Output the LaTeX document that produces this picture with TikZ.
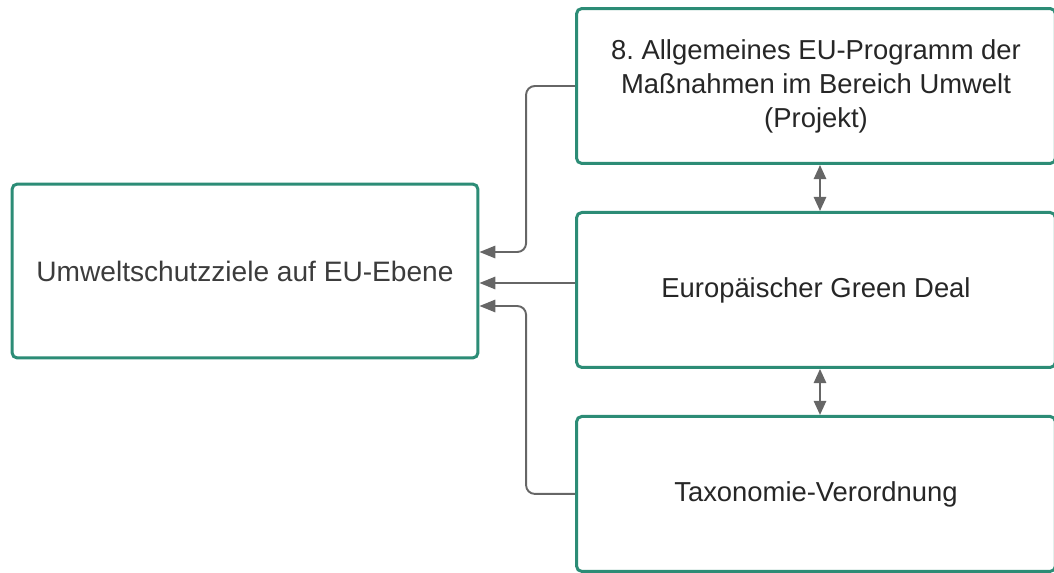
\documentclass[tikz,border=0pt]{standalone}
\usepackage{fontspec}
\setmainfont{Liberation Sans}
\usetikzlibrary{positioning,arrows.meta}
\definecolor{boxteal}{RGB}{44,140,118}
\definecolor{arrgray}{RGB}{102,102,102}
\definecolor{txtgray}{RGB}{60,60,60}
\begin{document}
\frenchspacing
\begin{tikzpicture}[x=0.02cm,y=-0.02cm,node distance=4.08cm,on grid,
    goal/.style={draw=boxteal,line width=1.7pt,rounded corners=3pt,fill=white,
      minimum width=9.32cm,minimum height=3.48cm,align=center,text=txtgray,
      font=\fontsize{16}{19.3}\selectfont},
    measure/.style={draw=boxteal,line width=1.7pt,rounded corners=3pt,fill=white,
      minimum width=9.58cm,minimum height=3.1cm,align=center,text=black!85,
      font=\fontsize{15.6}{19.3}\selectfont},
    conn/.style={draw=arrgray,line width=1.1pt,rounded corners=5pt,
      -{Triangle[length=9pt,width=7pt]}},
    link/.style={draw=arrgray,line width=1.1pt,
      {Triangle[length=8pt,width=7pt]}-{Triangle[length=8pt,width=7pt]}}]
  \useasboundingbox (0,0) rectangle (1054,572);
  \clip (0,0) rectangle (1054,572);
  \node[goal] (ziele) at (245,271) {Umweltschutzziele auf EU-Ebene};
  \node[measure] (programm) at (816,86) {8. Allgemeines EU-Programm der\\Maßnahmen im Bereich Umwelt\\(Projekt)};
  \node[measure] (greendeal) [below=of programm] {Europäischer Green Deal};
  \node[measure] (taxonomie) [below=of greendeal] {Taxonomie-Verordnung};
  % Verbindungen zur Zielbox
  \draw[conn] (programm.west) -- ++(-0.98cm,0) |- ([yshift=0.38cm]ziele.east);
  \draw[conn] ([yshift=0.14cm]greendeal.west) -- ([yshift=-0.24cm]ziele.east);
  \draw[conn] (taxonomie.west) -- ++(-0.98cm,0) |- ([yshift=-0.7cm]ziele.east);
  % Wechselbeziehungen
  \draw[link] ([xshift=0.08cm]programm.south) -- ([xshift=0.08cm]greendeal.north);
  \draw[link] ([xshift=0.08cm]greendeal.south) -- ([xshift=0.08cm]taxonomie.north);
\end{tikzpicture}
\end{document}
